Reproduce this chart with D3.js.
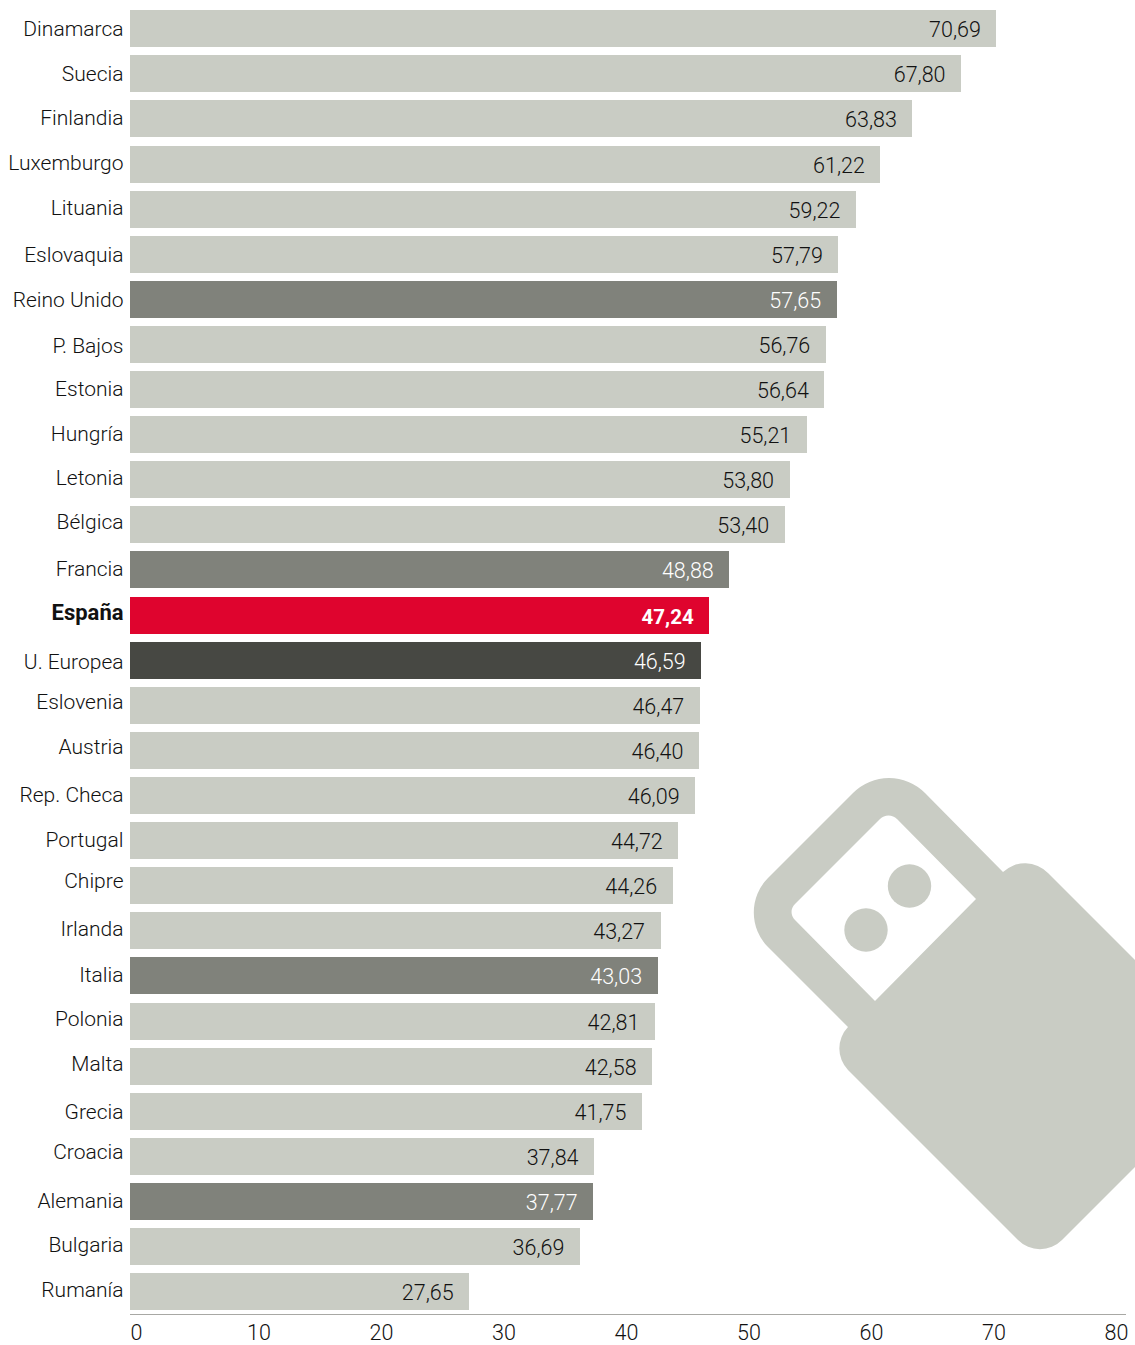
<!DOCTYPE html>
<html><head><meta charset="utf-8">
<script src="https://cdn.jsdelivr.net/npm/d3@7"></script>
<style>html,body{margin:0;padding:0;background:#fff}svg{display:block}text{font-family:Roboto,sans-serif;font-weight:300}</style>
</head><body><div id="chart"></div>
<script>
const countries=["Dinamarca","Suecia","Finlandia","Luxemburgo","Lituania","Eslovaquia","Reino Unido","P. Bajos","Estonia","Hungría","Letonia","Bélgica","Francia","España","U. Europea","Eslovenia","Austria","Rep. Checa","Portugal","Chipre","Irlanda","Italia","Polonia","Malta","Grecia","Croacia","Alemania","Bulgaria","Rumanía"];
const values=[70.69,67.80,63.83,61.22,59.22,57.79,57.65,56.76,56.64,55.21,53.80,53.40,48.88,47.24,46.59,46.47,46.40,46.09,44.72,44.26,43.27,43.03,42.81,42.58,41.75,37.84,37.77,36.69,27.65];
const midGrey=["Reino Unido","Francia","Italia","Alemania"];
const highlight="España", average="U. Europea";
const xTicks=[0,10,20,30,40,50,60,70,80];

// layout: baseline of each country label inside its row (the original's labels are not evenly set)
const labelBaseline=[26,26,25,24,24,26,26,27,25,25,24,23,25,23,27,22,22,25,25,21,24,25,23,23,26,21,25,24,24];

const W=1135,H=1345;
const svg=d3.select("#chart").append("svg").attr("width",W).attr("height",H);
const x=d3.scaleLinear().domain([0,80]).range([130,1110]);
const y=d3.scaleBand().domain(countries).range([10.2,1310.13]).paddingInner(0.18);
const fill=c=>c===highlight?"#df042e":c===average?"#474843":midGrey.includes(c)?"#80827b":"#c9ccc4";
const fmt=v=>v.toFixed(2).replace(".",",");

// decorative USB icon
svg.append("path").attr("fill","#c9ccc4").attr("fill-rule","evenodd").attr("d",
 "M853,793 A51,51 0 0 1 925,793 L1003,872 A32,32 0 0 1 1048,873 L1135,960 L1135,1167 L1062,1240 A31,31 0 0 1 1018,1240 L848,1070 A31,31 0 0 1 848,1027 L768,947 A49,49 0 0 1 768,878 Z "+
 "M880,819 L795,904 A11,11 0 0 0 795,920 L875,1001 L976,899 L897,819 A12,12 0 0 0 880,819 Z");
svg.append("circle").attr("cx",909.5).attr("cy",886).attr("r",21.7).attr("fill","#c9ccc4");
svg.append("circle").attr("cx",866).attr("cy",930).attr("r",21.7).attr("fill","#c9ccc4");

const rows=svg.append("g").selectAll("g").data(countries).join("g")
 .attr("transform",c=>`translate(0,${Math.round(y(c))})`);
rows.append("rect").attr("x",x(0)).attr("y",0).attr("height",37)
 .attr("width",(c,i)=>Math.ceil(x(values[i]))-x(0)).attr("fill",fill);
rows.append("text").attr("x",x(0)-6.5).attr("y",(c,i)=>labelBaseline[i]).attr("text-anchor","end")
 .attr("font-size",c=>c===highlight?22:21).attr("fill","#111")
 .style("font-weight",c=>c===highlight?700:300).text(c=>c);
rows.append("text").attr("x",(c,i)=>x(values[i])-15).attr("y",27).attr("text-anchor","end")
 .attr("font-size",c=>c===highlight?20.5:21.5)
 .attr("fill",c=>(c===highlight||c===average||midGrey.includes(c))?"#fff":"#111")
 .style("font-weight",c=>c===highlight?700:300)
 .text((c,i)=>fmt(values[i]));

const ax=svg.append("g").attr("transform","translate(0,1314.5)")
 .call(d3.axisBottom(x).tickValues(xTicks).tickSize(0).tickPadding(0).tickFormat(d3.format("d")));
ax.select(".domain").remove();
ax.selectAll("text").attr("dx",6).attr("dy",0).attr("y",25.5)
 .attr("font-size",21.5).attr("fill","#111").style("font-family","Roboto,sans-serif").style("font-weight",300);
svg.append("line").attr("x1",x(0)).attr("x2",1126).attr("y1",1314.5).attr("y2",1314.5).attr("stroke","#a8a8a4").attr("stroke-width",1);
</script></body></html>
